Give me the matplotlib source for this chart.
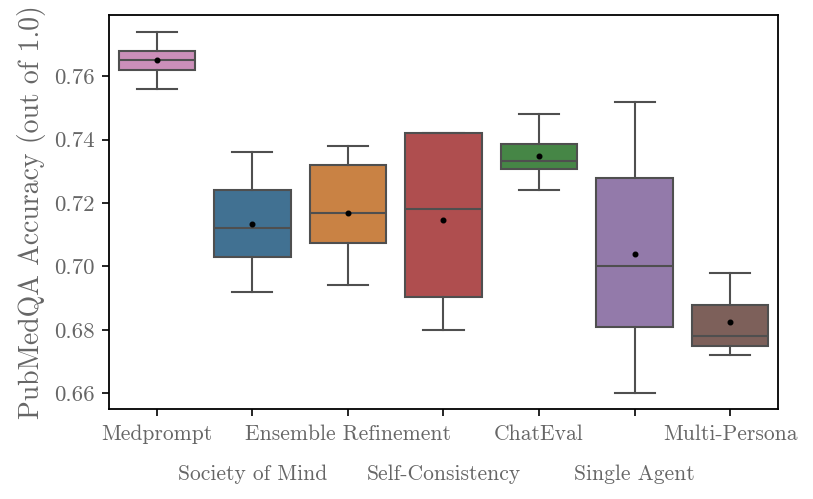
import matplotlib
matplotlib.use('Agg')
import matplotlib.pyplot as plt
import seaborn as sns

plt.rcParams['font.family'] = 'cmr10'
plt.rcParams['mathtext.fontset'] = 'cm'
plt.rcParams['axes.formatter.use_mathtext'] = True

# Data
methods = ['Medprompt', 'Society of Mind', 'Ensemble Refinement', 'Self-Consistency',
           'ChatEval', 'Single Agent', 'Multi-Persona']
whislo = [0.756, 0.692, 0.694, 0.680, 0.724, 0.660, 0.672]
q1 = [0.762, 0.703, 0.7075, 0.6905, 0.7306, 0.681, 0.675]
med = [0.765, 0.712, 0.717, 0.718, 0.7331, 0.700, 0.678]
q3 = [0.768, 0.724, 0.732, 0.742, 0.7385, 0.728, 0.688]
whishi = [0.774, 0.736, 0.738, 0.742, 0.748, 0.752, 0.698]
means = [0.765, 0.7135, 0.717, 0.7145, 0.7347, 0.704, 0.6826]
base_colors = ['tab:pink', 'tab:blue', 'tab:orange', 'tab:red',
               'tab:green', 'tab:purple', 'tab:brown']
yticks = [0.66, 0.68, 0.70, 0.72, 0.74, 0.76]

stats = []
for i, m in enumerate(methods):
    stats.append(dict(label=m, whislo=whislo[i], q1=q1[i], med=med[i],
                      q3=q3[i], whishi=whishi[i], mean=means[i], fliers=[]))

fig = plt.figure(figsize=(8.13, 4.99), dpi=100)
ax = fig.add_axes([0.134, 0.180, 0.823, 0.790])

line_col = '#4f4f4f'
bp = ax.bxp(stats, positions=range(len(methods)), widths=0.8, patch_artist=True,
            showmeans=True, showfliers=False,
            boxprops=dict(edgecolor=line_col, linewidth=1.5),
            medianprops=dict(color=line_col, linewidth=1.5),
            whiskerprops=dict(color=line_col, linewidth=1.5),
            capprops=dict(color=line_col, linewidth=1.5),
            meanprops=dict(marker='o', markerfacecolor='black', markeredgecolor='black',
                           markersize=3.3))
for patch, c in zip(bp['boxes'], base_colors):
    patch.set_facecolor(sns.desaturate(c, 0.55))
# cap width half of box width, like seaborn
for cap in bp['caps']:
    x0, x1 = cap.get_xdata()
    xc = (x0 + x1) / 2
    cap.set_xdata([xc - 0.21, xc + 0.21])

ax.set_xlim(-0.5, len(methods) - 0.5)
ax.set_ylim(0.655, 0.7793)
ax.set_yticks(yticks)
ax.set_yticklabels(['%.2f' % v for v in yticks])
ax.set_xticks(range(len(methods)))
ax.set_xticklabels(methods)

txt_col = '#666666'
ax.tick_params(axis='y', labelsize=16.5, labelcolor=txt_col, width=1.2, length=5, pad=5)
ax.tick_params(axis='x', labelsize=15.5, labelcolor=txt_col, width=1.2, length=5)
for i, t in enumerate(ax.xaxis.get_major_ticks()):
    t.set_pad(6 if i % 2 == 0 else 35)
ax.set_ylabel('PubMedQA Accuracy (out of 1.0)', fontsize=20, color=txt_col, labelpad=6)
for s in ax.spines.values():
    s.set_linewidth(1.3)

fig.savefig('out.png', dpi=100)
